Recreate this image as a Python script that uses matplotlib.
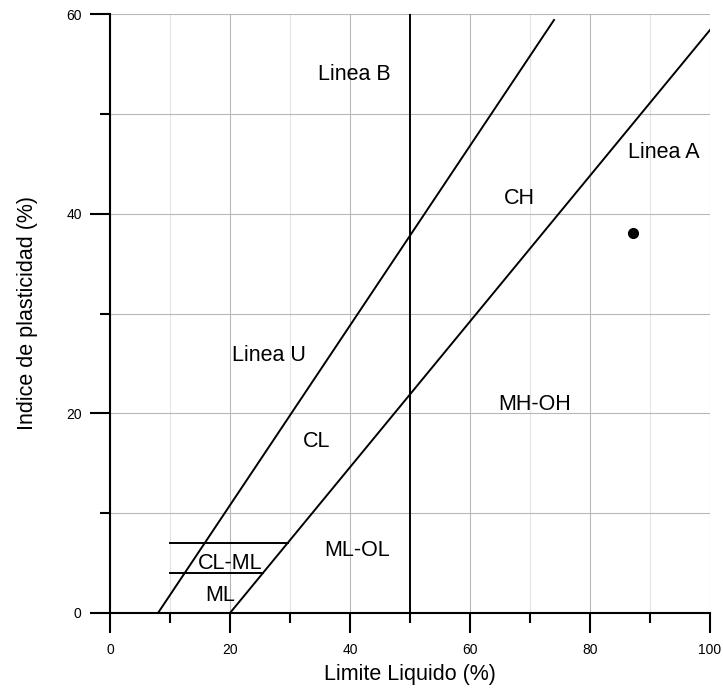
import matplotlib
matplotlib.use("Agg")
import matplotlib.pyplot as plt
from matplotlib.ticker import MultipleLocator

plt.rcParams['font.family'] = ['Liberation Sans', 'DejaVu Sans']

# Data
line_u_ll = [8, 74]
line_u_pi = [0.9 * (v - 8) for v in line_u_ll]
line_a_ll = [20, 100]
line_a_pi = [0.73 * (v - 20) for v in line_a_ll]
line_b_ll = [50, 50]
line_b_pi = [0, 60]
clml_top_ll = [10, 29.6]
clml_top_pi = [7, 7]
clml_bot_ll = [10, 25.5]
clml_bot_pi = [4, 4]
sample_ll = [87.2]
sample_pi = [38.1]

labels = ["Linea B", "Linea A", "CH", "Linea U", "CL", "MH-OH", "ML-OL", "CL-ML", "ML"]
label_ll = [40.8, 92.3, 68.2, 26.5, 34.5, 70.8, 41.2, 20.0, 18.3]
label_pi = [53.9, 46.1, 41.5, 25.8, 17.2, 20.9, 6.3, 5.0, 1.8]

W, H = 723, 688
fig = plt.figure(figsize=(W / 100, H / 100), dpi=100)
ax = fig.add_axes([110 / W, (H - 613) / H, 600 / W, (613 - 14) / H])
ax.set_xlim(0, 100)
ax.set_ylim(0, 60)

ax.xaxis.set_major_locator(MultipleLocator(20))
ax.xaxis.set_minor_locator(MultipleLocator(10))
ax.yaxis.set_major_locator(MultipleLocator(20))
ax.yaxis.set_minor_locator(MultipleLocator(10))

ax.grid(True, which='major', axis='both', color='#b8b8b8', linewidth=0.8, zorder=0)
ax.grid(True, which='minor', axis='y', color='#b8b8b8', linewidth=0.8, zorder=0)
ax.grid(True, which='minor', axis='x', color='#e4e4e4', linewidth=0.8, zorder=0)

for s in ['top', 'right']:
    ax.spines[s].set_visible(False)
for s in ['left', 'bottom']:
    ax.spines[s].set_linewidth(1.5)
    ax.spines[s].set_color('black')

ax.tick_params(which='major', direction='out', length=14.4, width=1.5, labelsize=10, pad=6)
ax.tick_params(which='minor', direction='out', length=7.2, width=1.5)
ax.tick_params(axis='x', which='major', pad=7)

lw = 1.4
ax.plot(line_u_ll, line_u_pi, color='black', lw=lw, zorder=3)
ax.plot(line_a_ll, line_a_pi, color='black', lw=lw, zorder=3)
ax.plot(line_b_ll, line_b_pi, color='black', lw=lw, zorder=3)
ax.plot(clml_top_ll, clml_top_pi, color='black', lw=lw, zorder=3)
ax.plot(clml_bot_ll, clml_bot_pi, color='black', lw=lw, zorder=3)
ax.plot(sample_ll, sample_pi, 'o', color='black', markersize=7, zorder=4)

for t, x, y in zip(labels, label_ll, label_pi):
    ax.text(x, y, t, fontsize=15.5, ha='center', va='center', zorder=5)

ax.set_xlabel("Limite Liquido (%)", fontsize=15.5, labelpad=5)
ax.set_ylabel("Indice de plasticidad (%)", fontsize=15.5, labelpad=20)

fig.savefig("out.png", dpi=100)
